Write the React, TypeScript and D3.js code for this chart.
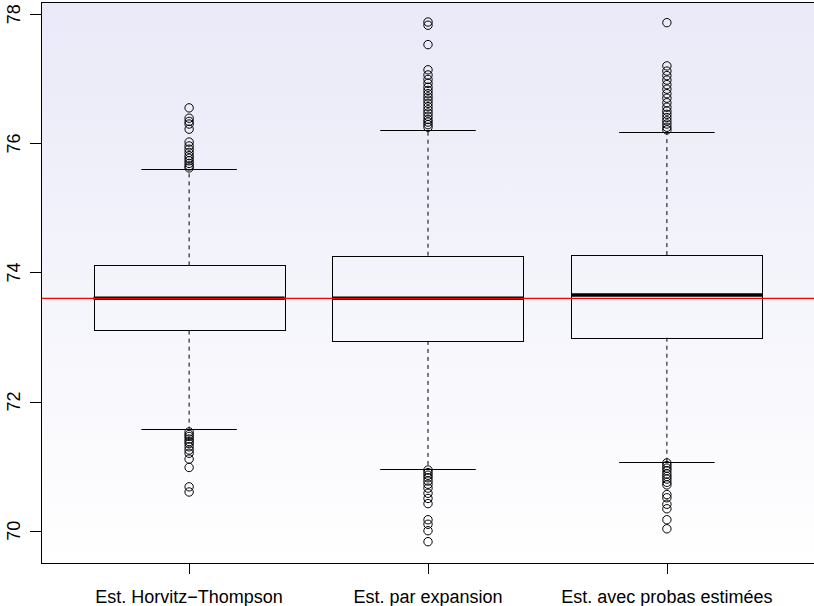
import { useEffect, useRef } from 'react';
import * as d3 from 'd3';

const categories = ['Est. Horvitz\u2212Thompson', 'Est. par expansion', 'Est. avec probas estimées'];

// five-number summaries: lower whisker, Q1, median, Q3, upper whisker
const lowerWhisker = [71.58, 70.96, 71.07];
const q1 = [73.1, 72.94, 72.99];
const medians = [73.6, 73.6, 73.65];
const q3 = [74.11, 74.26, 74.27];
const upperWhisker = [75.6, 76.21, 76.18];

const outliersHT = [
  76.55, 76.39, 76.34, 76.3, 76.22, 76.02, 75.96, 75.91, 75.86, 75.81, 75.77, 75.73, 75.69, 75.65, 75.62,
  71.53, 71.49, 71.46, 71.42, 71.38, 71.35, 71.3, 71.25, 71.2, 71.11, 70.98, 70.68, 70.6,
];
const outliersExpansion = [
  77.88, 77.83, 77.53, 77.14, 77.06, 76.99, 76.93, 76.87, 76.82, 76.77, 76.72, 76.67, 76.62, 76.57, 76.52, 76.47,
  76.42, 76.37, 76.33, 76.29, 76.25,
  70.94, 70.9, 70.86, 70.82, 70.77, 70.72, 70.66, 70.58, 70.5, 70.42, 70.17, 70.1, 70.0, 69.83,
];
const outliersProbas = [
  77.87, 77.2, 77.12, 77.05, 76.98, 76.91, 76.84, 76.77, 76.7, 76.63, 76.56, 76.5, 76.45, 76.4, 76.35, 76.3, 76.25, 76.21,
  71.05, 71.01, 70.97, 70.93, 70.88, 70.84, 70.8, 70.75, 70.71, 70.56, 70.51, 70.41, 70.34, 70.17, 70.03,
];
const outliers = [outliersHT, outliersExpansion, outliersProbas];

const yTicks = [70, 72, 74, 76, 78];
const trueValue = 73.6;

const W = 814;
const H = 606;

export default function App() {
  const svgRef = useRef<SVGSVGElement>(null);

  useEffect(() => {
    if (!svgRef.current) return;
    const svg = d3.select(svgRef.current);
    svg.selectAll('*').remove();

    const left = 41;
    const right = 815;
    const top = 2;
    const bottom = 563;
    const x = d3.scaleLinear().domain([0.38, 3.62]).range([left, right]);
    const y = d3.scaleLinear().domain([69.5, 78.19]).range([bottom, top]);
    const font = '"Liberation Sans", Arial, Helvetica, sans-serif';

    // gradient background of the plot region
    const grad = svg
      .append('defs')
      .append('linearGradient')
      .attr('id', 'bg')
      .attr('x1', 0)
      .attr('y1', 0)
      .attr('x2', 0)
      .attr('y2', 1);
    grad.append('stop').attr('offset', '0%').attr('stop-color', '#e9e9f8');
    grad.append('stop').attr('offset', '100%').attr('stop-color', '#ffffff');

    svg
      .append('rect')
      .attr('x', left)
      .attr('y', top)
      .attr('width', right - left)
      .attr('height', bottom - top)
      .attr('fill', 'url(#bg)');

    const half = (x(1.4) - x(1)) ;
    const g = svg.append('g');

    categories.forEach((_, i) => {
      const cx = x(i + 1);
      const stroke = '#000';
      // whiskers
      g.append('line')
        .attr('x1', cx).attr('x2', cx)
        .attr('y1', y(q3[i])).attr('y2', y(upperWhisker[i]))
        .attr('stroke', stroke).attr('stroke-dasharray', '4,4');
      g.append('line')
        .attr('x1', cx).attr('x2', cx)
        .attr('y1', y(q1[i])).attr('y2', y(lowerWhisker[i]))
        .attr('stroke', stroke).attr('stroke-dasharray', '4,4');
      // staples
      [upperWhisker[i], lowerWhisker[i]].forEach((v) => {
        g.append('line')
          .attr('x1', cx - half / 2).attr('x2', cx + half / 2)
          .attr('y1', Math.round(y(v)) + 0.5).attr('y2', Math.round(y(v)) + 0.5)
          .attr('stroke', stroke);
      });
      // box
      g.append('rect')
        .attr('x', Math.round(cx - half) + 0.5)
        .attr('y', Math.round(y(q3[i])) + 0.5)
        .attr('width', Math.round(2 * half))
        .attr('height', Math.round(y(q1[i]) - y(q3[i])))
        .attr('fill', 'none')
        .attr('stroke', stroke);
      // median
      g.append('line')
        .attr('x1', cx - half).attr('x2', cx + half)
        .attr('y1', y(medians[i])).attr('y2', y(medians[i]))
        .attr('stroke', stroke).attr('stroke-width', 3.5);
      // outliers
      g.selectAll(null)
        .data(outliers[i])
        .join('circle')
        .attr('cx', cx)
        .attr('cy', (d) => y(d))
        .attr('r', 4.2)
        .attr('fill', 'none')
        .attr('stroke', stroke)
        .attr('stroke-width', 1);
    });

    // reference line
    svg
      .append('line')
      .attr('x1', left).attr('x2', right)
      .attr('y1', y(trueValue)).attr('y2', y(trueValue))
      .attr('stroke', '#ff0000').attr('stroke-width', 1.2);

    // frame
    svg
      .append('rect')
      .attr('x', left + 0.5)
      .attr('y', top + 0.5)
      .attr('width', right - left)
      .attr('height', bottom - top)
      .attr('fill', 'none')
      .attr('stroke', '#000');

    // y axis
    const ya = svg.append('g');
    yTicks.forEach((t) => {
      const ty = Math.round(y(t)) + 0.5;
      ya.append('line').attr('x1', left - 11).attr('x2', left).attr('y1', ty).attr('y2', ty).attr('stroke', '#000');
      ya.append('text')
        .attr('transform', `translate(19.5,${y(t)}) rotate(-90)`)
        .attr('text-anchor', 'middle')
        .attr('font-family', font)
        .attr('font-size', 18)
        .text(String(t));
    });

    // x axis
    const xa = svg.append('g');
    categories.forEach((c, i) => {
      const tx = Math.round(x(i + 1)) + 0.5;
      xa.append('line').attr('x1', tx).attr('x2', tx).attr('y1', bottom).attr('y2', bottom + 11).attr('stroke', '#000');
      xa.append('text')
        .attr('x', x(i + 1))
        .attr('y', 603)
        .attr('text-anchor', 'middle')
        .attr('font-family', font)
        .attr('font-size', 18)
        .text(c);
    });
  }, []);

  return (
    <svg
      ref={svgRef}
      width={W}
      height={H}
      style={{ position: 'absolute', left: 0, top: 0, background: '#fff' }}
    />
  );
}
